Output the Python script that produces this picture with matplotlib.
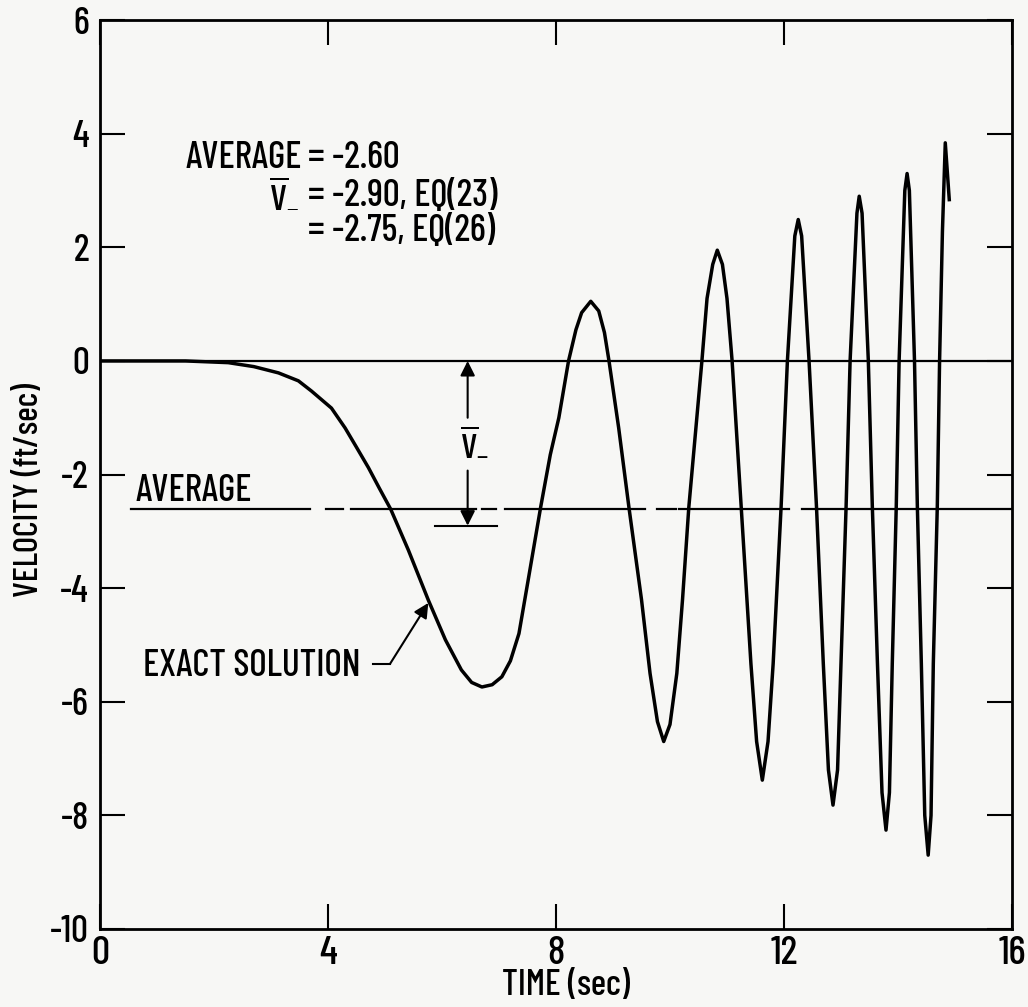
import numpy as np
import matplotlib
matplotlib.use('Agg')
import matplotlib.pyplot as plt

plt.rcParams['font.family'] = ['Barlow Condensed', 'Roboto Condensed', 'DejaVu Sans']
plt.rcParams['font.weight'] = 500
plt.rcParams['axes.labelweight'] = 500
plt.rcParams['mathtext.fontset'] = 'custom'
plt.rcParams['mathtext.rm'] = 'Barlow Condensed:medium'
plt.rcParams['mathtext.it'] = 'Barlow Condensed:medium'
plt.rcParams['axes.unicode_minus'] = False

# exact solution (time in sec, velocity in ft/sec)
time = [0.0, 1.5, 2.25, 2.7, 3.13, 3.48, 3.71, 4.06, 4.30, 4.50, 4.71, 4.90,
        5.10, 5.41, 5.76, 6.06, 6.34, 6.52, 6.70, 6.88, 7.05, 7.20, 7.35, 7.52,
        7.73, 7.90, 8.05, 8.22, 8.35, 8.45, 8.61, 8.75, 8.85, 8.93, 9.10, 9.28,
        9.50, 9.65, 9.78, 9.89, 10.00, 10.12, 10.22, 10.33, 10.56, 10.65, 10.75,
        10.83, 10.92, 11.00, 11.09, 11.25, 11.42, 11.52, 11.62, 11.72, 11.81,
        11.95, 12.06, 12.19, 12.25, 12.31, 12.44, 12.57, 12.69, 12.78, 12.86,
        12.94, 13.00, 13.09, 13.16, 13.28, 13.32, 13.37, 13.48, 13.55, 13.64,
        13.72, 13.79, 13.85, 13.90, 13.97, 14.02, 14.12, 14.16, 14.20, 14.29,
        14.34, 14.41, 14.47, 14.53, 14.58, 14.62, 14.69, 14.73, 14.78, 14.83,
        14.90]
velocity = [0.0, 0.0, -0.03, -0.10, -0.21, -0.35, -0.53, -0.83, -1.18, -1.52,
            -1.88, -2.24, -2.61, -3.33, -4.21, -4.91, -5.44, -5.66, -5.74, -5.70,
            -5.56, -5.28, -4.80, -3.81, -2.58, -1.65, -1.0, 0.0, 0.55, 0.85, 1.05,
            0.88, 0.50, 0.0, -1.18, -2.58, -4.2, -5.5, -6.35, -6.70, -6.4, -5.5,
            -4.2, -2.58, 0.0, 1.1, 1.7, 1.95, 1.7, 1.1, 0.0, -2.58, -5.33, -6.7,
            -7.38, -6.7, -5.33, -2.56, 0.0, 2.2, 2.49, 2.2, 0.0, -2.56, -5.33,
            -7.2, -7.82, -7.2, -5.33, -2.56, 0.0, 2.6, 2.90, 2.6, 0.0, -2.56,
            -5.33, -7.6, -8.26, -7.6, -5.33, -2.56, 0.0, 3.0, 3.30, 3.0, 0.0,
            -2.56, -5.33, -8.0, -8.70, -8.0, -5.33, -2.56, 0.0, 2.28, 3.84, 2.84]

average = -2.60
v_bar_eq23 = -2.90
v_bar_eq26 = -2.75
# pieces of the drawn average line (start, end) in sec
avg_segments = [(0.55, 3.69), (3.97, 4.27), (4.41, 6.60), (6.70, 6.94),
                (7.10, 9.57), (9.77, 10.10), (10.16, 12.09), (12.32, 16.0)]

x_ticks = [0, 4, 8, 12, 16]
y_ticks = [-10, -8, -6, -4, -2, 0, 2, 4, 6]

bg = '#f7f7f5'
fig = plt.figure(figsize=(10.28, 10.07), dpi=100)
fig.patch.set_facecolor(bg)
ax = fig.add_axes([0.0973, 0.0775, 0.8871, 0.9025])
ax.set_facecolor(bg)

ax.axhline(0, color='k', lw=1.6)
for a, b in avg_segments:
    ax.plot([a, b], [average, average], color='k', lw=1.6)
ax.plot(time, velocity, color='k', lw=2.5, solid_joinstyle='round')

# V-bar dimension arrows
arr = dict(arrowstyle='-|>', color='k', lw=1.5, mutation_scale=22,
           shrinkA=0, shrinkB=0)
ax.annotate('', xy=(6.45, 0), xytext=(6.45, -1.0), arrowprops=arr)
ax.annotate('', xy=(6.45, v_bar_eq23), xytext=(6.45, -1.93), arrowprops=arr)
ax.plot([5.88, 6.97], [v_bar_eq23, v_bar_eq23], color='k', lw=1.5)
ax.text(6.31, -1.65, r'$\overline{\mathrm{V}}_{-}$', ha='left',
        va='baseline', fontsize=26)

fs = 27
ax.text(3.54, 3.39, 'AVERAGE', ha='right', va='baseline', fontsize=fs)
ax.text(3.65, 3.39, f'= {average:.2f}', ha='left', va='baseline', fontsize=fs)
ax.text(3.50, 2.72, r'$\overline{\mathrm{V}}_{-}$', ha='right',
        va='baseline', fontsize=fs)
ax.text(3.65, 2.72, f'= {v_bar_eq23:.2f}, EQ(23)', ha='left', va='baseline',
        fontsize=fs)
ax.text(3.65, 2.12, f'= {v_bar_eq26:.2f}, EQ(26)', ha='left', va='baseline',
        fontsize=fs)

ax.text(0.63, -2.46, 'AVERAGE', ha='left', va='baseline', fontsize=27)
ax.text(0.75, -5.54, 'EXACT SOLUTION', ha='left', va='baseline', fontsize=27)
ax.plot([4.79, 5.09], [-5.33, -5.33], color='k', lw=1.5)
ax.annotate('', xy=(5.76, -4.26), xytext=(5.09, -5.33), arrowprops=arr)

ax.set_xlim(0, 16)
ax.set_ylim(-10, 6)
ax.set_xticks(x_ticks)
ax.set_yticks(y_ticks)
ax.tick_params(direction='in', length=18, width=1.5, top=True, right=True)
ax.tick_params(axis='x', labelsize=29, pad=5)
ax.tick_params(axis='y', labelsize=27, pad=8)
for s in ax.spines.values():
    s.set_linewidth(2)

ax.set_xlabel('TIME (sec)', fontsize=26)
ax.set_ylabel('VELOCITY (ft/sec)', fontsize=25)
ax.xaxis.set_label_coords(0.511, -0.062)
ax.xaxis.label.set_va('center')
ax.yaxis.set_label_coords(-0.077, 0.4835)
ax.yaxis.label.set_va('center')

fig.savefig('out.png', dpi=100, facecolor=bg)
